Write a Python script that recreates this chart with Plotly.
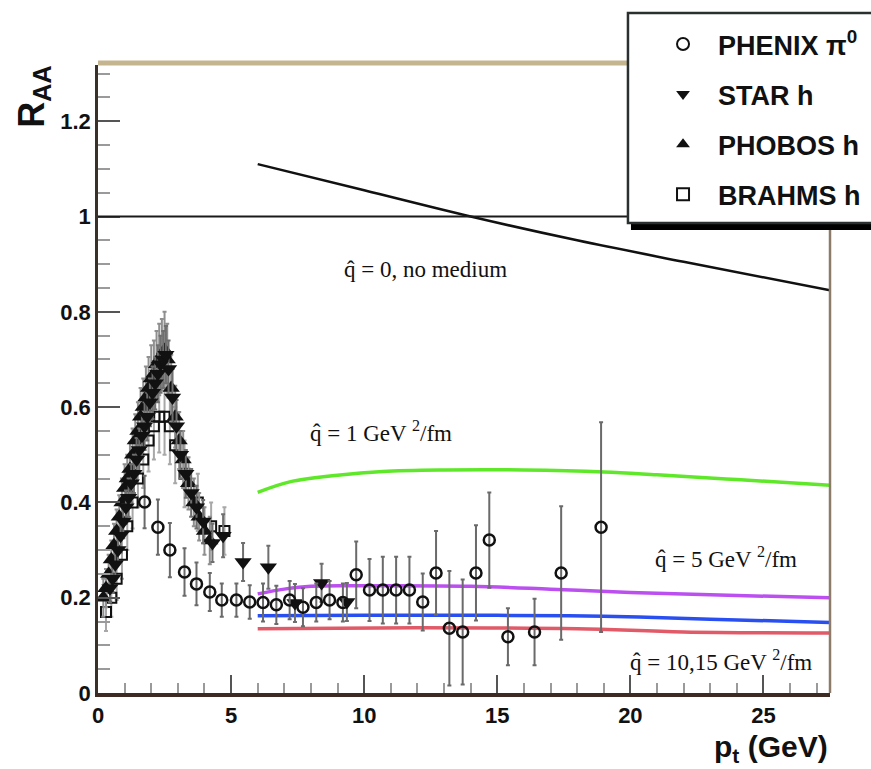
import plotly.graph_objects as go

# ---------------- data ----------------
# PHENIX pi0 (open circles)
phenix_pt = [1.75, 2.25, 2.7, 3.25, 3.7, 4.2, 4.65, 5.2, 5.7, 6.2, 6.7, 7.2, 7.7, 8.2, 8.7, 9.2,
             9.7, 10.2, 10.7, 11.2, 11.7, 12.2, 12.7, 13.2, 13.7, 14.2, 14.7, 15.4, 16.4, 17.4, 18.9]
phenix_raa = [0.401, 0.348, 0.300, 0.254, 0.229, 0.212, 0.195, 0.195, 0.191, 0.19, 0.185, 0.195, 0.18,
              0.19, 0.195, 0.19, 0.248, 0.216, 0.216, 0.216, 0.216, 0.191, 0.252, 0.136, 0.128,
              0.252, 0.321, 0.118, 0.128, 0.252, 0.348]
phenix_err = [0.055, 0.058, 0.057, 0.05, 0.045, 0.04, 0.035, 0.035, 0.035, 0.04, 0.04, 0.04, 0.04,
              0.04, 0.04, 0.04, 0.07, 0.065, 0.07, 0.07, 0.07, 0.06, 0.088, 0.12, 0.11, 0.1, 0.1,
              0.06, 0.07, 0.14, 0.22]

# STAR charged hadrons (filled down triangles)
star_pt = [0.45, 0.55, 0.65, 0.75, 0.85, 0.95, 1.05, 1.15, 1.25, 1.35, 1.45, 1.55, 1.65, 1.75,
           1.85, 1.95, 2.05, 2.15, 2.25, 2.35, 2.45, 2.55, 2.65, 2.8, 2.95, 3.1, 3.3, 3.5, 3.7,
           3.95, 4.3, 4.7, 5.45, 6.4, 7.4, 8.4, 9.35]
star_raa = [0.22, 0.24, 0.27, 0.30, 0.33, 0.36, 0.39, 0.41, 0.44, 0.46, 0.49, 0.51, 0.54, 0.56,
            0.58, 0.61, 0.63, 0.65, 0.67, 0.69, 0.70, 0.71, 0.68, 0.62, 0.56, 0.50, 0.46, 0.42,
            0.39, 0.36, 0.315, 0.33, 0.275, 0.264, 0.189, 0.231, 0.191]
star_err = [0.03, 0.03, 0.03, 0.03, 0.035, 0.035, 0.035, 0.04, 0.04, 0.04, 0.045, 0.045, 0.045,
            0.05, 0.05, 0.05, 0.055, 0.055, 0.06, 0.06, 0.06, 0.06, 0.06, 0.06, 0.055, 0.05,
            0.05, 0.05, 0.045, 0.045, 0.04, 0.045, 0.04, 0.045, 0.04, 0.04, 0.04]

# PHOBOS charged hadrons (filled up triangles)
phobos_pt = [0.2, 0.3, 0.4, 0.5, 0.6, 0.7, 0.8, 0.9, 1.0, 1.1, 1.2, 1.3, 1.4, 1.5, 1.6, 1.7, 1.8,
             1.9, 2.0, 2.1, 2.2, 2.3, 2.4, 2.5, 2.6, 2.75, 2.9, 3.05, 3.2, 3.4, 3.6, 3.8, 4.0, 4.2]
phobos_raa = [0.20, 0.22, 0.25, 0.28, 0.31, 0.34, 0.37, 0.40, 0.43, 0.45, 0.47, 0.50, 0.53, 0.55,
              0.58, 0.60, 0.62, 0.64, 0.66, 0.67, 0.69, 0.70, 0.71, 0.72, 0.70, 0.64, 0.58, 0.53,
              0.49, 0.44, 0.40, 0.37, 0.34, 0.32]
phobos_err = [0.04, 0.04, 0.04, 0.04, 0.045, 0.045, 0.045, 0.05, 0.05, 0.05, 0.055, 0.055, 0.055,
              0.06, 0.06, 0.06, 0.065, 0.065, 0.07, 0.07, 0.07, 0.075, 0.075, 0.08, 0.075, 0.07,
              0.065, 0.06, 0.06, 0.055, 0.05, 0.05, 0.05, 0.05]

# BRAHMS charged hadrons (open squares)
brahms_pt = [0.3, 0.5, 0.7, 0.9, 1.1, 1.3, 1.5, 1.7, 1.9, 2.1, 2.3, 2.5, 2.7, 2.9, 3.25, 3.75, 4.25, 4.75]
brahms_raa = [0.17, 0.2, 0.24, 0.29, 0.35, 0.4, 0.45, 0.49, 0.53, 0.56, 0.58, 0.58, 0.56, 0.52, 0.46,
              0.40, 0.35, 0.34]
brahms_err = [0.04, 0.04, 0.045, 0.05, 0.05, 0.055, 0.06, 0.06, 0.065, 0.07, 0.075, 0.08, 0.08,
              0.08, 0.07, 0.06, 0.05, 0.05]

# Jet-quenching calculations for several transport coefficients q-hat
nomed_pt = [6, 10, 14, 18, 22, 27.5]
nomed_raa = [1.11, 1.055, 1.0, 0.95, 0.905, 0.845]

q1_pt = [6, 7.2, 9, 10.7, 13, 16, 19, 21, 24, 27.5]
q1_raa = [0.421, 0.443, 0.457, 0.465, 0.468, 0.468, 0.464, 0.458, 0.448, 0.436]

q5_pt = [6, 7, 8, 10, 14, 17, 20, 23, 27.5]
q5_raa = [0.208, 0.218, 0.224, 0.225, 0.224, 0.218, 0.211, 0.206, 0.2]

q10_pt = [6, 10, 15, 19, 23, 27.5]
q10_raa = [0.162, 0.163, 0.163, 0.161, 0.155, 0.148]

q15_pt = [6, 12, 18, 22, 27.5]
q15_raa = [0.135, 0.137, 0.135, 0.128, 0.126]

x_range = [0, 27.5]
y_range = [0, 1.318]

SANS = "Liberation Sans, Arial"
SERIF = "Liberation Serif, Times New Roman"

fig = go.Figure()

# theory curves
curves = [
    (nomed_pt, nomed_raa, "#111111", 2.5),
    (q1_pt, q1_raa, "#5fe82a", 3.5),
    (q5_pt, q5_raa, "#bb4ff0", 3.5),
    (q10_pt, q10_raa, "#2a4ff0", 3.5),
    (q15_pt, q15_raa, "#e05a68", 3.5),
]
for xs, ys, col, w in curves:
    fig.add_trace(go.Scatter(x=xs, y=ys, mode="lines", line=dict(color=col, width=w, shape="spline"),
                             showlegend=False, hoverinfo="skip"))

# measurements (drawn from bottom layer to top)
fig.add_trace(go.Scatter(
    x=brahms_pt, y=brahms_raa, mode="markers", name="BRAHMS h", legendrank=4, legendgroup="d",
    marker=dict(symbol="square-open", size=10, color="#111", line=dict(width=2, color="#111")),
    error_y=dict(type="data", array=brahms_err, color="#a8a8a8", thickness=2, width=2)))
fig.add_trace(go.Scatter(
    x=phobos_pt, y=phobos_raa, mode="markers", name="PHOBOS h", legendrank=3, legendgroup="c",
    marker=dict(symbol="triangle-up", size=15, color="#111"),
    error_y=dict(type="data", array=phobos_err, color="#8f8f8f", thickness=2, width=2)))
fig.add_trace(go.Scatter(
    x=star_pt, y=star_raa, mode="markers", name="STAR h", legendrank=2, legendgroup="b",
    marker=dict(symbol="triangle-down", size=15, color="#111"),
    error_y=dict(type="data", array=star_err, color="#6f6f6f", thickness=2, width=2)))
fig.add_trace(go.Scatter(
    x=phenix_pt, y=phenix_raa, mode="markers", name="PHENIX π<sup>0</sup>", legendrank=1,
    legendgroup="a",
    marker=dict(symbol="circle-open", size=11, color="#111", line=dict(width=2.5, color="#111")),
    error_y=dict(type="data", array=phenix_err, color="#6a6a6a", thickness=2, width=2)))

# reference line R_AA = 1, frame pieces and the legend box
shapes = [
    dict(type="line", xref="paper", yref="y", x0=0, x1=1, y0=1, y1=1,
         line=dict(color="#1a1a1a", width=2), layer="above"),
    dict(type="line", xref="paper", yref="paper", x0=0, x1=1, y0=1.003, y1=1.003,
         line=dict(color="#c5b58f", width=5), layer="above"),
    dict(type="line", xref="paper", yref="paper", x0=1, x1=1, y0=0, y1=1,
         line=dict(color="#8c7b68", width=2.5), layer="above"),
    dict(type="rect", xref="paper", yref="paper", x0=0.7281, x1=1.10, y0=0.7373, y1=1.0717,
         fillcolor="#000000", line=dict(width=0), layer="above"),
    dict(type="rect", xref="paper", yref="paper", x0=0.7240, x1=1.09, y0=0.7484, y1=1.0828,
         fillcolor="#ffffff", line=dict(color="#2a3030", width=2.5), layer="above"),
]

label_font = dict(family=SERIF, size=23, color="#111")
annotations = [
    dict(text="q̂ = 0, no medium", x=12.32, y=0.888, xref="x", yref="y", showarrow=False,
         font=label_font),
    dict(text="q̂ = 1 GeV <sup>2</sup>/fm", x=10.63, y=0.548, xref="x", yref="y", showarrow=False,
         font=label_font),
    dict(text="q̂ = 5 GeV <sup>2</sup>/fm", x=23.6, y=0.285, xref="x", yref="y", showarrow=False,
         font=label_font),
    dict(text="q̂ = 10,15 GeV <sup>2</sup>/fm", x=23.4, y=0.069, xref="x", yref="y",
         showarrow=False, font=label_font),
    dict(text="p<sub>t</sub> (GeV)", x=1.0, y=-0.0876, xref="paper", yref="paper",
         xanchor="right", yanchor="middle", showarrow=False,
         font=dict(family=SANS, size=30, color="#111", weight="bold")),
    dict(text="R<sub>AA</sub>", x=-0.087, y=0.95, xref="paper", yref="paper", textangle=-90,
         xanchor="center", yanchor="middle", showarrow=False,
         font=dict(family=SANS, size=36, color="#111", weight="bold")),
]

tick_font = dict(family=SANS, size=22, color="#111", weight="bold")

fig.update_layout(
    width=871, height=769,
    margin=dict(l=98, r=41, t=65, b=76, autoexpand=False),
    paper_bgcolor="white", plot_bgcolor="white",
    shapes=shapes, annotations=annotations,
    showlegend=True,
    legend=dict(x=0.7514, y=1.0717, xanchor="left", yanchor="top", xref="paper", yref="paper",
                bgcolor="rgba(0,0,0,0)", borderwidth=0, itemwidth=60, tracegroupgap=12,
                traceorder="grouped", itemsizing="constant",
                font=dict(family=SANS, size=27, color="#111", weight="bold")),
    xaxis=dict(range=x_range, showgrid=False, zeroline=False, showline=True,
               linecolor="#3d2a22", linewidth=3.5, ticks="inside", ticklen=18, tickwidth=2,
               tickcolor="#555", dtick=5, tick0=0,
               minor=dict(ticks="inside", ticklen=10, tickwidth=2, tickcolor="#9a9a9a", dtick=1,
                          showgrid=False),
               tickfont=tick_font),
    yaxis=dict(range=y_range, showgrid=False, zeroline=False, showline=True,
               linecolor="#3a302a", linewidth=2.5, ticks="inside", ticklen=22, tickwidth=2,
               tickcolor="#555", dtick=0.2, tick0=0,
               minor=dict(ticks="inside", ticklen=12, tickwidth=2, tickcolor="#9a9a9a",
                          dtick=0.05, showgrid=False),
               tickfont=tick_font),
)

fig.write_html("out.html")
